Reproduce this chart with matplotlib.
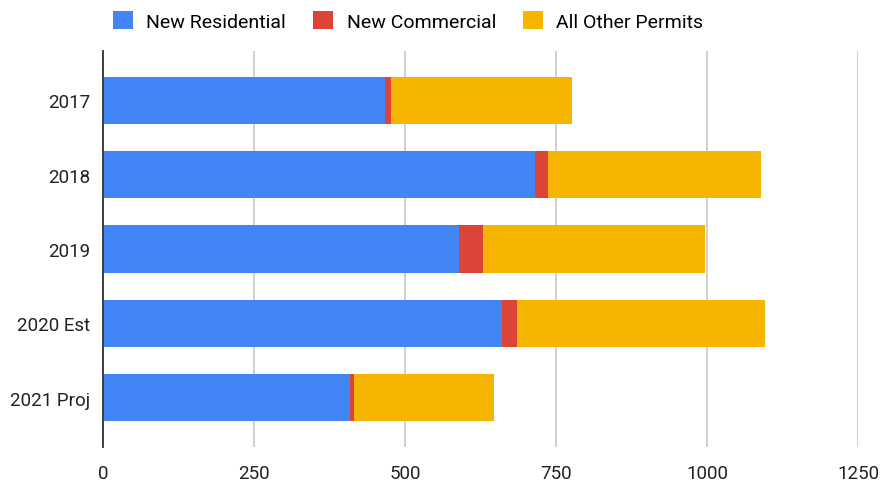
import matplotlib.pyplot as plt
from matplotlib.patches import Patch

plt.rcParams['font.family'] = ['Roboto', 'DejaVu Sans']

years = ['2017', '2018', '2019', '2020 Est', '2021 Proj']
residential = [467, 716, 589, 660, 409]
commercial = [10, 21, 40, 26, 7]
other = [300, 352, 367, 410, 231]

colors = ['#4285F4', '#DB4437', '#F4B400']
labels = ['New Residential', 'New Commercial', 'All Other Permits']

fig = plt.figure(figsize=(8.82, 4.81), dpi=100)
ax = fig.add_axes([0.1168, 0.0686, 0.856, 0.8233])

pos = list(range(len(years)))
left2 = [a + b for a, b in zip(residential, commercial)]
ax.barh(pos, residential, height=0.64, color=colors[0], zorder=3)
ax.barh(pos, commercial, left=residential, height=0.64, color=colors[1], zorder=3)
ax.barh(pos, other, left=left2, height=0.64, color=colors[2], zorder=3)

ax.set_xlim(0, 1250)
ax.set_ylim(4.666, -0.666)
ax.set_yticks(pos)
ax.set_yticklabels(years)
ax.set_xticks([0, 250, 500, 750, 1000, 1250])
ax.tick_params(axis='both', length=0, labelsize=13.5, colors='#222222')
ax.tick_params(axis='y', pad=9)
ax.tick_params(axis='x', pad=12)

ax.grid(axis='x', color='#cccccc', linewidth=1.3, zorder=0)
for s in ['top', 'right', 'bottom']:
    ax.spines[s].set_visible(False)
ax.spines['left'].set_color('#333333')
ax.spines['left'].set_linewidth(1.3)
ax.spines['left'].set_zorder(4)

handles = [Patch(facecolor=c, edgecolor='none') for c in colors]
fig.legend(handles, labels, loc='center', bbox_to_anchor=(0.463, 0.954), ncol=3,
           frameon=False, fontsize=14, handlelength=1.0, handleheight=1.0,
           handletextpad=0.7, columnspacing=1.4)

fig.savefig('out.png', dpi=100)
